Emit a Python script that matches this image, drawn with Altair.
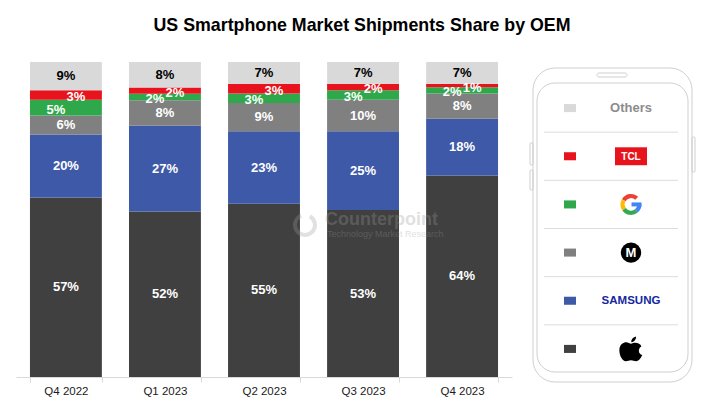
import math
import altair as alt
import pandas as pd

FONT = "Liberation Sans"

# ---------------- data ----------------
quarters = ["Q4 2022", "Q1 2023", "Q2 2023", "Q3 2023", "Q4 2023"]
oems = ["Apple", "Samsung", "Motorola", "Google", "TCL", "Others"]  # bottom -> top
apple = [57, 52, 55, 53, 64]
samsung = [20, 27, 23, 25, 18]
motorola = [6, 8, 9, 10, 8]
google = [5, 2, 3, 3, 2]
tcl = [3, 2, 3, 2, 1]
others = [9, 8, 7, 7, 7]
colors = ["#404040", "#3e59a7", "#808080", "#2fa84b", "#e8141d", "#d9d9d9"]
legend_order = ["Others", "TCL", "Google", "Motorola", "Samsung", "Apple"]  # top -> bottom
title_text = "US Smartphone Market Shipments Share by OEM"

series = dict(zip(oems, [apple, samsung, motorola, google, tcl, others]))
rows = []
for rank, oem in enumerate(oems):
    for q, v in zip(quarters, series[oem]):
        rows.append({"quarter": q, "oem": oem, "share": v, "rank": rank, "label": f"{v}%"})
df = pd.DataFrame(rows)
legend_df = pd.DataFrame({"oem": legend_order})
one = pd.DataFrame({"k": [0]})

W, H = 692, 315

color_scale = alt.Scale(domain=oems, range=colors)

x_enc = alt.X(
    "quarter:N",
    sort=quarters,
    scale=alt.Scale(domain=quarters, range=[0, 496], paddingInner=0.274, paddingOuter=0.141),
    axis=alt.Axis(
        title=None, labelAngle=0, labelFont=FONT, labelFontSize=11.5, labelColor="#1a1a1a",
        domainColor="#d9d9d9", tickColor="#d9d9d9", tickSize=5, tickBand="extent",
        labelPadding=3, grid=False,
    ),
)
y_scale = alt.Scale(domain=[0, 1], nice=False, zero=True)

base = alt.Chart(df).transform_stack(
    stack="share",
    groupby=["quarter"],
    sort=[alt.SortField("rank", order="ascending")],
    as_=["y0", "y1"],
    offset="normalize",
).transform_calculate(mid="(datum.y0 + datum.y1) / 2")

bars = base.mark_bar().encode(
    x=x_enc,
    y=alt.Y("y1:Q", scale=y_scale, axis=None),
    y2="y0:Q",
    color=alt.Color("oem:N", scale=color_scale, legend=None),
)

def seg_labels(filter_expr, color, dx=0, dy=0):
    return base.transform_filter(filter_expr).mark_text(
        color=color, fontWeight="bold", fontSize=13, font=FONT, dx=dx, dy=dy
    ).encode(
        x=x_enc,
        y=alt.Y("mid:Q", scale=y_scale, axis=None),
        text="label:N",
    )

lab_main = seg_labels("datum.oem == 'Apple' || datum.oem == 'Samsung' || datum.oem == 'Motorola'", "white")
lab_others = seg_labels("datum.oem == 'Others'", "black")
lab_google = seg_labels("datum.oem == 'Google'", "white", dx=-10, dy=2)
lab_tcl = seg_labels("datum.oem == 'TCL'", "white", dx=10, dy=2)

# ---------------- watermark ----------------
wm_ring = alt.Chart(one).mark_arc(
    radius=12, radius2=8, theta=0.5, theta2=5.9, color="#9a9a9a", opacity=0.3
).encode(x=alt.value(289), y=alt.value(163))
wm_text = alt.Chart(one).mark_text(
    text="Counterpoint", font=FONT, fontSize=18, fontWeight="bold", color="#9a9a9a",
    opacity=0.3, align="left", baseline="middle"
).encode(x=alt.value(309), y=alt.value(158))
wm_sub = alt.Chart(one).mark_text(
    text="Technology Market Research", font=FONT, fontSize=9, color="#9a9a9a",
    opacity=0.3, align="left", baseline="middle"
).encode(x=alt.value(311), y=alt.value(172))

# ---------------- phone legend ----------------
PH = "#cfcfcf"
phone_outer = alt.Chart(one).mark_rect(
    fillOpacity=0, stroke=PH, strokeWidth=1, cornerRadius=22
).encode(x=alt.value(517), x2=alt.value(676), y=alt.value(6), y2=alt.value(320))
phone_inner = alt.Chart(one).mark_rect(
    fillOpacity=0, stroke=PH, strokeWidth=1, cornerRadius=18
).encode(x=alt.value(521), x2=alt.value(672), y=alt.value(21), y2=alt.value(310))
speaker = alt.Chart(one).mark_rect(
    fillOpacity=0, stroke=PH, strokeWidth=1, cornerRadius=2
).encode(x=alt.value(581), x2=alt.value(611), y=alt.value(11), y2=alt.value(15))
btn_l1 = alt.Chart(one).mark_rect(fillOpacity=0, stroke=PH, strokeWidth=1, cornerRadius=1).encode(
    x=alt.value(514), x2=alt.value(517), y=alt.value(81), y2=alt.value(103))
btn_l2 = alt.Chart(one).mark_rect(fillOpacity=0, stroke=PH, strokeWidth=1, cornerRadius=1).encode(
    x=alt.value(514), x2=alt.value(517), y=alt.value(108), y2=alt.value(128))
btn_r = alt.Chart(one).mark_rect(fillOpacity=0, stroke=PH, strokeWidth=1, cornerRadius=1).encode(
    x=alt.value(676), x2=alt.value(679), y=alt.value(75), y2=alt.value(110))

leg_scale = alt.Scale(type="band", domain=legend_order, range=[22, 311], paddingInner=0, paddingOuter=0)
y_leg_c = alt.Y("oem:N", scale=leg_scale, axis=None, bandPosition=0.5)
y_leg_end = alt.Y("oem:N", scale=leg_scale, axis=None, bandPosition=1)

leg = alt.Chart(legend_df)

separators = leg.transform_filter("datum.oem != 'Apple'").mark_rule(
    color="#dcdcdc", strokeWidth=1
).encode(x=alt.value(528), x2=alt.value(662), y=y_leg_end)

squares = leg.mark_point(
    shape="M-1,-0.67H1V0.67H-1Z", filled=True, size=144, opacity=1, strokeWidth=0
).encode(x=alt.value(554), y=y_leg_c, color=alt.Color("oem:N", scale=color_scale, legend=None))

LX = 615
logo_others = leg.transform_filter("datum.oem == 'Others'").mark_text(
    text="Others", font=FONT, fontSize=13, fontWeight="bold", color="#8c8c8c"
).encode(x=alt.value(LX), y=y_leg_c)

tcl_box = leg.transform_filter("datum.oem == 'TCL'").mark_point(
    shape="M-1,-0.56H1V0.56H-1Z", filled=True, size=1024, color="#e8141d", opacity=1, strokeWidth=0
).encode(x=alt.value(LX), y=y_leg_c)
tcl_txt = leg.transform_filter("datum.oem == 'TCL'").mark_text(
    text="TCL", font=FONT, fontSize=10, fontWeight="bold", color="white", dy=0.5
).encode(x=alt.value(LX), y=y_leg_c)

g_leg = leg.transform_filter("datum.oem == 'Google'")
deg = math.pi / 180
g_parts = [
    ("#EA4335", 300, 403),
    ("#FBBC05", 235, 300),
    ("#34A853", 140, 235),
    ("#4285F4", 90, 140),
]
g_arcs = [
    g_leg.mark_arc(radius=10.5, radius2=6.3, theta=a * deg, theta2=b * deg, color=c).encode(
        x=alt.value(LX), y=y_leg_c)
    for c, a, b in g_parts
]
g_bar = g_leg.mark_rule(color="#4285F4", strokeWidth=4).encode(
    x=alt.value(LX + 0.5), x2=alt.value(LX + 10.5), y=y_leg_c)

moto_circle = leg.transform_filter("datum.oem == 'Motorola'").mark_point(
    shape="circle", filled=True, size=415, color="black", opacity=1, strokeWidth=0
).encode(x=alt.value(LX), y=y_leg_c)
moto_m = leg.transform_filter("datum.oem == 'Motorola'").mark_text(
    text="M", font=FONT, fontSize=13, fontWeight="bold", color="white", dy=0.5
).encode(x=alt.value(LX), y=y_leg_c)

samsung_txt = leg.transform_filter("datum.oem == 'Samsung'").mark_text(
    text="SAMSUNG", font=FONT, fontSize=11.5, fontWeight="bold", color="#1428a0"
).encode(x=alt.value(LX), y=y_leg_c)

apple_path = (
    "M0,-0.42 C0.25,-0.58 0.75,-0.55 0.85,-0.2 C0.55,-0.05 0.58,0.42 0.92,0.5 "
    "C0.8,0.82 0.6,1 0.42,1 C0.25,1 0.18,0.92 0,0.92 C-0.18,0.92 -0.25,1 -0.42,1 "
    "C-0.7,1 -0.95,0.55 -0.95,0.1 C-0.95,-0.4 -0.6,-0.55 -0.4,-0.55 C-0.22,-0.55 -0.1,-0.42 0,-0.42 Z "
    "M0.02,-0.55 C0.02,-0.8 0.2,-1 0.42,-1 C0.42,-0.75 0.25,-0.58 0.02,-0.55 Z"
)
apple_logo = leg.transform_filter("datum.oem == 'Apple'").mark_point(
    shape=apple_path, filled=True, size=600, color="black", opacity=1, strokeWidth=0
).encode(x=alt.value(LX), y=y_leg_c)

chart = alt.layer(
    bars, lab_main, lab_others, lab_google, lab_tcl,
    wm_ring, wm_text, wm_sub,
    phone_outer, phone_inner, speaker, btn_l1, btn_l2, btn_r,
    separators, squares,
    logo_others, tcl_box, tcl_txt, *g_arcs, g_bar, moto_circle, moto_m, samsung_txt, apple_logo,
).resolve_scale(y="independent").properties(
    width=W,
    height=H,
    title=alt.TitleParams(
        text=title_text, font=FONT, fontSize=17.8, fontWeight="bold", color="black",
        anchor="middle", offset=27,
    ),
    autosize=alt.AutoSizeParams(type="none"),
    padding={"left": 8, "top": 54, "right": 9, "bottom": 30},
).configure_view(stroke=None)

chart.save("out.html", embed_options={"renderer": "svg", "actions": False})
